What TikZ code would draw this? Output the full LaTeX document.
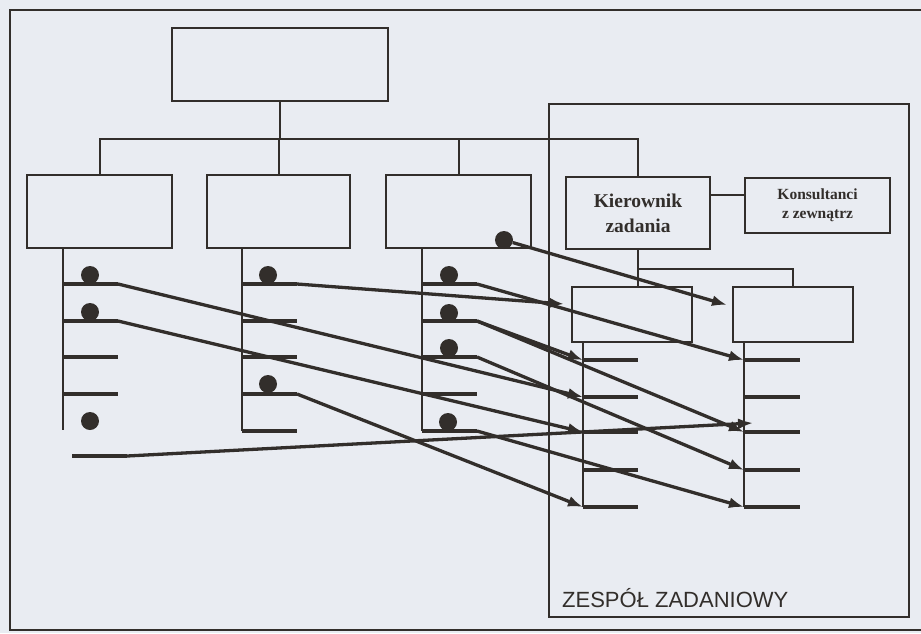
\documentclass[tikz,border=0pt]{standalone}
\usepackage{fontspec}
\setmainfont{Liberation Serif}
\setsansfont{Liberation Sans}
\usetikzlibrary{arrows.meta}
\definecolor{ink}{RGB}{50,46,43}
\definecolor{paper}{RGB}{233,236,242}
\begin{document}
\begin{tikzpicture}[x=1pt,y=-1pt,
box/.style={draw=ink,line width=2pt,rectangle,inner sep=0pt,text=ink,align=center},
link/.style={draw=ink,line width=2pt},
slot/.style={draw=ink,line width=4.4pt},
assign/.style={draw=ink,line width=3.3pt,-{Latex[length=15pt,width=11pt]}},
seat/.style={circle,fill=ink,minimum size=18pt,inner sep=0pt}
]
\useasboundingbox (0,0) rectangle (921,633);
\fill[paper] (0,0) rectangle (921,633);
\draw[ink,line width=2.8pt] (930,10) -- (10,10) -- (10,630) -- (930,630);

\node[box,minimum width=216pt,minimum height=73pt] (top) at (280,64.5) {};
\node[box,minimum width=145pt,minimum height=73pt] (d1) at (99.5,211) {};
\node[box,minimum width=143pt,minimum height=73pt] (d2) at (278.5,211.5) {};
\node[box,minimum width=145pt,minimum height=73pt] (d3) at (458.5,211.5) {};
\node[box,minimum width=144pt,minimum height=72pt,font=\bfseries\fontsize{19.5}{25}\selectfont] (kier) at (638,213) {Kierownik\\zadania};
\node[box,minimum width=145pt,minimum height=55pt,font=\bfseries\fontsize{15.5}{19}\selectfont] (kons) at (817.5,205.5) {Konsultanci\\z zewnątrz};
\node[box,minimum width=120pt,minimum height=55pt] (subL) at (632,314.5) {};
\node[box,minimum width=120pt,minimum height=55pt] (subR) at (793,314.5) {};
\node[draw=ink,line width=1.3pt,minimum width=360pt,minimum height=513pt] (team) at (729,360.5) {};
\node[anchor=base west,inner sep=0pt,text=ink,font=\sffamily\fontsize{22}{26}\selectfont] (teamname) at (562,607) {ZESPÓŁ ZADANIOWY};

\draw[link] (top.south) -- ++(0,37) coordinate (bus);
\draw[link] (d1.north) |- (bus) -| (kier.north);
\draw[link] (d2.north) -- (d2.north |- bus);
\draw[link] (d3.north) -- (d3.north |- bus);
\draw[link] (kier.south) -- ++(0,19) coordinate (tbus) -| (subR.north);
\draw[link] (tbus) -- (tbus |- subL.north);
\draw[link] ([yshift=18pt]kier.east) -- ([yshift=10.5pt]kons.west);

\foreach \d/\x/\b in {d1/63/430,d2/242/431,d3/422/431}
  \draw[link] (\d.south -| \x,0) -- (\x,\b);
\foreach \i/\y in {1/284,2/321,3/357,4/394}
  \draw[slot] (63,\y) -- (118,\y) coordinate (d1r\i);
\draw[slot] (72,456) -- (127,456) coordinate (d1r6);
\foreach \i/\y in {1/284,2/321,3/357,4/394,5/431} {
  \draw[slot] (242,\y) -- (297,\y) coordinate (d2r\i);
  \draw[slot] (422,\y) -- (477,\y) coordinate (d3r\i);
}
\draw[link] (subL.south -| 583,0) -- (583,507);
\draw[link] (subR.south -| 744,0) -- (744,507);
\foreach \i/\y in {1/360,2/397,3/432,4/470,5/507} {
  \draw[slot] (583,\y) coordinate (sL\i) -- (638,\y);
  \draw[slot] (744,\y) coordinate (sR\i) -- (800,\y);
}

\node[seat] (p11) at (90,275) {};
\node[seat] (p12) at (90,312) {};
\node[seat] (p13) at (90,421) {};
\node[seat] (p21) at (268,275) {};
\node[seat] (p24) at (268,384) {};
\node[seat] (p31) at (449,275) {};
\node[seat] (p32) at (449,313) {};
\node[seat] (p33) at (449,348) {};
\node[seat] (p35) at (448,422) {};
\node[seat] (p30) at (504,240) {};

\coordinate (lbox) at (564,304);
\coordinate (rbox) at (727,305);
\coordinate (r3up) at (753,423);

\draw[assign] (p30) -- (rbox);
\draw[assign] (d2r1) -- (lbox);
\draw[assign] (d3r1) -- (sR1);
\draw[assign] (d3r2) -- (sL1);
\draw[assign] (d3r2) -- (sR3);
\draw[assign] (d3r3) -- (sR4);
\draw[assign] (d1r1) -- (sL2);
\draw[assign] (d1r2) -- (sL3);
\draw[assign] (d2r4) -- (sL5);
\draw[assign] (d3r5) -- (sR5);
\draw[assign] (d1r6) -- (r3up);
\end{tikzpicture}
\end{document}
